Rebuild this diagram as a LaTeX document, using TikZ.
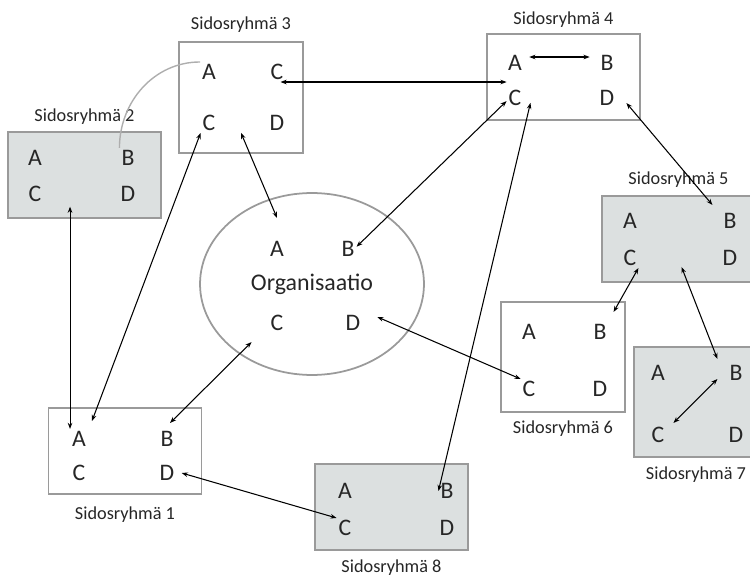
\documentclass[tikz,border=0pt]{standalone}
\usepackage{fontspec}
\setmainfont{Carlito}
\usepackage{tikz}
\usetikzlibrary{shapes,arrows.meta,positioning}
\definecolor{rimgray}{HTML}{9A9A9A}
\definecolor{boxfill}{HTML}{DCE0E0}
\definecolor{txtgray}{HTML}{262626}
\tikzset{
  grp/.style={draw=rimgray, line width=1.1pt, rectangle, inner sep=0pt,
    minimum width=3.06cm, minimum height=1.72cm},
  grpsq/.style={grp, minimum width=2.48cm, minimum height=2.2cm},
  grayfill/.style={fill=boxfill},
  ltr/.style={font=\fontsize{13.5}{16}\selectfont, text=txtgray, inner sep=1pt,
    text height=9pt, text depth=0pt},
  lbl/.style={font=\fontsize{10.4}{12}\selectfont, text=txtgray, inner sep=0pt},
  link/.style={<->, line width=0.6pt},
}

\begin{document}
\begin{tikzpicture}[x=0.02cm, y=-0.02cm, >={Stealth[length=3.5pt,width=2.6pt]}]
        \useasboundingbox (0,0) rectangle (750,577);

        % stakeholder groups
        \node[grp] (sr1) at (125,451) {};
        \node[grp, grayfill] (sr2) at (84.5,175) {};
        \node[grpsq, minimum height=2.22cm] (sr3) at (241,97.5) {};
        \node[grp] (sr4) at (563.5,77) {};
        \node[grp, grayfill] (sr5) at (678.5,239) {};
        \node[grpsq] (sr6) at (563,357) {};
        \node[grpsq, grayfill] (sr7) at (696,402) {};
        \node[grp, grayfill] (sr8) at (391.5,507) {};
        \node[draw=rimgray, line width=1pt, ellipse, minimum width=4.48cm, minimum height=3.64cm,
          font=\fontsize{13.6}{16}\selectfont, text=txtgray] (org) at (312,284) {Organisaatio};

        \node[lbl, below=6.5pt of sr1] (sr1l) {Sidosryhmä 1};
        \node[lbl, above=3.5pt of sr2] (sr2l) {Sidosryhmä 2};
        \node[lbl, above=4.5pt of sr3] (sr3l) {Sidosryhmä 3};
        \node[lbl, above=3pt of sr4] (sr4l) {Sidosryhmä 4};
        \node[lbl, above=4pt of sr5] (sr5l) {Sidosryhmä 5};
        \node[lbl, below=4.5pt of sr6] (sr6l) {Sidosryhmä 6};
        \node[lbl, below=5pt of sr7] (sr7l) {Sidosryhmä 7};
        \node[lbl, below=5pt of sr8] (sr8l) {Sidosryhmä 8};

        % letters
        \node[ltr] (sr1a) at (79,439) {A};
        \node[ltr] (sr1b) at (167,439) {B};
        \node[ltr] (sr1c) at (79,473) {C};
        \node[ltr] (sr1d) at (167,473) {D};
        \node[ltr] (sr2a) at (35,158) {A};
        \node[ltr] (sr2b) at (128,158) {B};
        \node[ltr] (sr2c) at (35,194) {C};
        \node[ltr] (sr2d) at (128,194) {D};
        \node[ltr] (sr3a) at (209,72) {A};
        \node[ltr] (sr3c) at (277,72) {C};
        \node[ltr] (sr3c2) at (209,123) {C};
        \node[ltr] (sr3d) at (277,123) {D};
        \node[ltr] (sr4a) at (515,63) {A};
        \node[ltr] (sr4b) at (607,63) {B};
        \node[ltr] (sr4c) at (515,98) {C};
        \node[ltr] (sr4d) at (607,98) {D};
        \node[ltr] (sr5a) at (630,221) {A};
        \node[ltr] (sr5b) at (730,221) {B};
        \node[ltr] (sr5c) at (630,258) {C};
        \node[ltr] (sr5d) at (730,258) {D};
        \node[ltr] (sr6a) at (529,332) {A};
        \node[ltr] (sr6b) at (600,332) {B};
        \node[ltr] (sr6c) at (529,389) {C};
        \node[ltr] (sr6d) at (600,389) {D};
        \node[ltr] (sr7a) at (658,373) {A};
        \node[ltr] (sr7b) at (736,373) {B};
        \node[ltr] (sr7c) at (658,435) {C};
        \node[ltr] (sr7d) at (736,435) {D};
        \node[ltr] (sr8a) at (345,491) {A};
        \node[ltr] (sr8b) at (447,491) {B};
        \node[ltr] (sr8c) at (345,528) {C};
        \node[ltr] (sr8d) at (447,528) {D};
        \node[ltr] (orga) at (277,249) {A};
        \node[ltr] (orgb) at (348,249) {B};
        \node[ltr] (orgc) at (277,323) {C};
        \node[ltr] (orgd) at (353,323) {D};

        % links
        \draw[rimgray!80, line width=0.8pt] (sr2b.north west) to[out=90, in=180] (sr3a.north west);
        \draw[link] ([xshift=2pt]sr3c.south) -- (sr3c.south -| sr4c.north west);
        \draw[link, shorten <=3pt, shorten >=5pt] ([yshift=3.4pt]sr4a.east) -- ([yshift=3.4pt]sr4b.west);
        \draw[link] (sr4c.200) -- (orgb.15);
        \draw[link] ([xshift=4pt]sr4c.-30) -- (sr8b.west);
        \draw[link] ([shift={(10,5)}]sr4d.east) -- ([shift={(-9,-6)}]sr5b.north west);
        \draw[link] ([yshift=12pt]sr3.south) -- ([yshift=12pt]orga.north);
        \draw[link] ([shift={(15,-6)}]orgd.east) -- (sr6c.north west);
        \draw[link] ([shift={(-17,9)}]orgc.south west) -- ([shift={(3,-6)}]sr1b.north);
        \draw[link] (sr3c2.south west) -- ([shift={(4,-8)}]sr1a.north east);
        \draw[link, shorten <=-7pt] (sr2.south -| sr1a.north west) -- (sr1a.north west);
        \draw[link] ([xshift=3pt]sr1d.east) -- (sr8c.north west);
        \draw[link] (sr5c.south east) -- ([shift={(5,-10)}]sr6b.north east);
        \draw[link] ([shift={(3,-16)}]sr5.south) -- ([shift={(-10,-4)}]sr7b.north west);
        \draw[link] ([shift={(-10,6)}]sr7b.west) -- ([shift={(7,-2)}]sr7c.north east);
    \end{tikzpicture}
\end{document}
